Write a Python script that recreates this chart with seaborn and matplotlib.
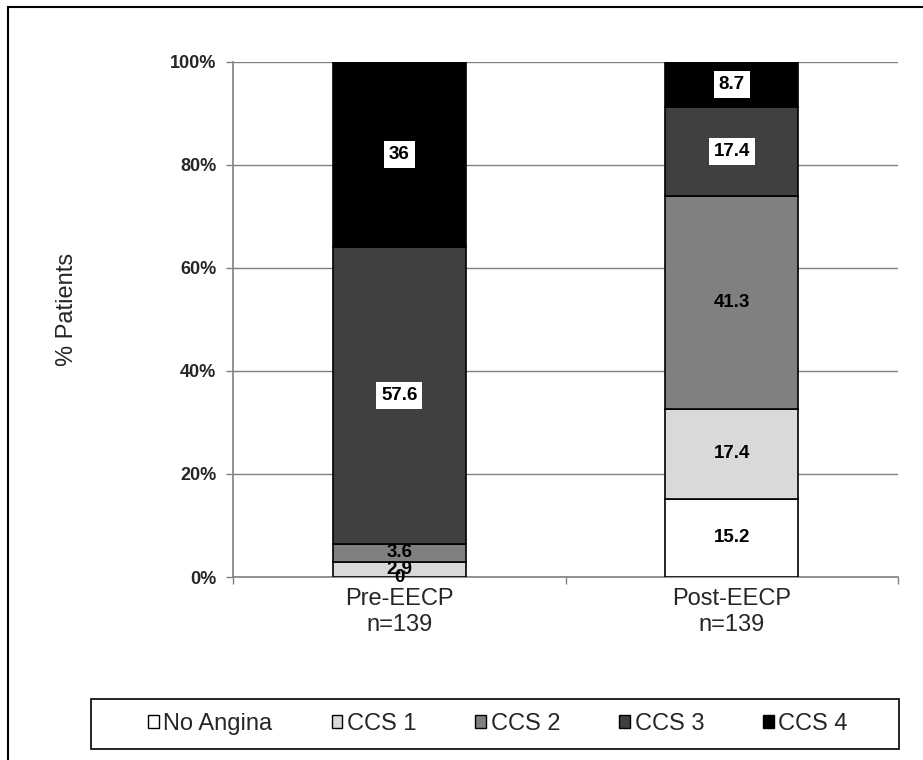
import numpy as np
import pandas as pd
import seaborn as sns
import matplotlib.pyplot as plt
from matplotlib.patches import Patch, Rectangle

# data
groups = ["Pre-EECP\nn=139", "Post-EECP\nn=139"]
classes = ["No Angina", "CCS 1", "CCS 2", "CCS 3", "CCS 4"]
no_angina = [0, 15.2]
ccs1 = [2.9, 17.4]
ccs2 = [3.6, 41.3]
ccs3 = [57.6, 17.4]
ccs4 = [36, 8.7]
yticks = [0, 20, 40, 60, 80, 100]
ytick_labels = ["0%", "20%", "40%", "60%", "80%", "100%"]

palette = ["#ffffff", "#d9d9d9", "#808080", "#404040", "#000000"]
boxed = [False, False, False, True, True]

sns.set_theme(style="white")
plt.rcParams["font.family"] = ["Liberation Sans", "DejaVu Sans"]

fig = plt.figure(figsize=(9.23, 7.6), dpi=100)
ax = fig.add_axes([233 / 923, 1 - 577 / 760, 665 / 923, 515 / 760])

df = pd.DataFrame({"group": groups, "No Angina": no_angina, "CCS 1": ccs1,
                   "CCS 2": ccs2, "CCS 3": ccs3, "CCS 4": ccs4})

bottom = np.zeros(len(groups))
for cls, col, box in zip(classes, palette, boxed):
    sns.barplot(data=df, x="group", y=cls, color=col, saturation=1,
                width=0.4, bottom=bottom, edgecolor="black", linewidth=1.2,
                errorbar=None, ax=ax, zorder=3)
    cont = ax.containers[-1]
    labels = [f"{v:g}" for v in df[cls]]
    anns = ax.bar_label(cont, labels=labels, label_type="center",
                        fontsize=13.5, fontweight="bold", color="black", zorder=5)
    if box:
        for a in anns:
            a.set_bbox(dict(facecolor="white", edgecolor="none", pad=3.5))
    bottom = bottom + df[cls].to_numpy()

ax.set_ylim(0, 100)
ax.set_xlim(-0.5, 1.5)
ax.set_yticks(yticks)
ax.set_yticklabels(ytick_labels, fontweight="bold", fontsize=13)
ax.yaxis.grid(True, color="#808080", lw=1)
ax.set_axisbelow(True)
ax.tick_params(axis="y", left=True, length=5, width=1, color="#808080",
               direction="out", pad=7)
ax.tick_params(axis="x", which="major", length=0, labelsize=17, pad=8)
ax.set_xticks([-0.5, 0.5, 1.5], minor=True)
ax.tick_params(axis="x", which="minor", bottom=True, length=5, width=1,
               color="#808080", direction="out")
for s in ["top", "right"]:
    ax.spines[s].set_visible(False)
for s in ["left", "bottom"]:
    ax.spines[s].set_color("#808080")
    ax.spines[s].set_linewidth(1.2)

ax.set_xlabel("")
ax.set_ylabel("% Patients", fontsize=17)
ax.yaxis.set_label_coords(-0.233, 0.52)

# legend box with entries centred in it
fig.add_artist(Rectangle((91 / 923, 1 - 749 / 760), 808 / 923, 50 / 760,
                         transform=fig.transFigure, fill=False,
                         edgecolor="black", lw=1.2))
handles = [Patch(facecolor=c, edgecolor="black", linewidth=1) for c in palette]
fig.legend(handles, classes, ncol=5, fontsize=17, loc="center",
           bbox_to_anchor=(498 / 923, 1 - 724 / 760), frameon=False,
           handlelength=0.45, handleheight=0.45, handletextpad=0.2,
           columnspacing=2.5, borderpad=0)

# outer chart border (only left and top visible in the reference)
fig.add_artist(Rectangle((8 / 923, -0.1), 1.2, 1.1 - 7 / 760,
                         transform=fig.transFigure, fill=False,
                         edgecolor="black", lw=1.5))

fig.savefig("out.png", dpi=100)
